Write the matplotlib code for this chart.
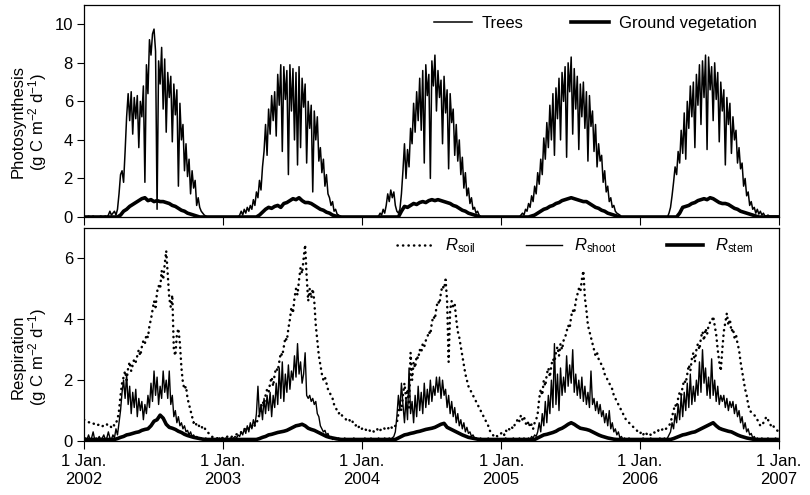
import numpy as np
import matplotlib
matplotlib.use("Agg")
import matplotlib.pyplot as plt

plt.rcParams["font.family"] = ["Liberation Sans", "DejaVu Sans"]
plt.rcParams["mathtext.fontset"] = "custom"
plt.rcParams["mathtext.rm"] = "Liberation Sans"
plt.rcParams["mathtext.it"] = "Liberation Sans:italic"
plt.rcParams["mathtext.bf"] = "Liberation Sans:bold"

YEARS = [2002, 2003, 2004, 2005, 2006]
STEP_FINE = 4     # days between samples of the noisy series
STEP_COARSE = 8   # days between samples of the smooth series

# Photosynthesis of trees, g C m-2 d-1 (one list per year, every 4 days)
TREES = [
    [0, 0, 0, 0.05, 0, 0, 0.05, 0, 0, 0,
     0, 0.05, 0, 0, 0.05, 0, 0.1, 0.3, 0.1, 0.2,
     0.3, 0.1, 0.4, 1.2, 2.2, 2.4, 1.8, 3.4, 5.2, 6.4,
     5.0, 6.5, 4.3, 6.2, 5.1, 6.3, 3.6, 6.0, 5.2, 6.8,
     1.8, 7.9, 6.4, 9.2, 8.4, 9.5, 9.75, 8.6, 0.4, 8.1,
     6.9, 8.8, 5.6, 8.2, 4.4, 7.5, 6.2, 7.3, 3.9, 6.9,
     5.3, 6.6, 1.6, 5.9, 4.0, 4.8, 2.4, 3.8, 2.1, 3.0,
     1.2, 2.4, 1.5, 1.9, 0.6, 1.0, 0.5, 0.3, 0.2, 0.1,
     0.05, 0, 0, 0, 0, 0, 0, 0, 0, 0,
     0, 0],
    [0, 0, 0, 0, 0, 0, 0, 0, 0, 0,
     0, 0.1, 0.3, 0.1, 0.4, 0.2, 0.5, 0.3, 0.6, 0.4,
     0.9, 0.6, 1.3, 1.0, 1.9, 1.4, 2.6, 3.4, 4.8, 3.2,
     5.6, 4.3, 6.3, 5.0, 6.5, 4.2, 7.4, 5.8, 7.9, 3.4,
     7.8, 6.1, 7.6, 2.2, 7.9, 5.5, 7.7, 4.0, 7.5, 2.7,
     7.8, 3.6, 7.2, 5.7, 6.9, 2.8, 6.0, 4.6, 5.8, 1.3,
     5.5, 4.0, 5.2, 2.9, 3.6, 2.3, 3.0, 1.6, 2.2, 1.2,
     1.0, 0.6, 0.8, 0.3, 0.4, 0.15, 0.1, 0, 0, 0,
     0, 0, 0, 0, 0, 0, 0, 0, 0, 0,
     0, 0],
    [0, 0, 0, 0, 0, 0, 0, 0, 0, 0,
     0, 0.05, 0.2, 0.1, 0.4, 0.2, 0.6, 1.2, 0.8, 1.4,
     1.0, 1.3, 0.6, 0.3, 0.2, 0.4, 1.2, 2.4, 3.8, 2.0,
     3.5, 2.6, 4.6, 3.8, 5.9, 4.4, 6.5, 5.0, 7.2, 4.5,
     7.6, 2.8, 7.9, 6.3, 7.4, 2.0, 8.1, 6.8, 8.4, 5.5,
     7.6, 6.2, 7.1, 3.8, 7.3, 5.4, 6.6, 2.5, 6.4, 4.9,
     5.6, 3.2, 4.8, 2.9, 4.0, 2.2, 3.1, 1.5, 2.3, 1.1,
     1.5, 0.7, 1.0, 0.4, 0.5, 0.2, 0.3, 0.1, 0, 0,
     0, 0, 0, 0, 0, 0, 0, 0, 0, 0,
     0, 0],
    [0, 0, 0, 0, 0, 0, 0, 0, 0, 0,
     0, 0, 0, 0.1, 0.2, 0.1, 0.4, 0.3, 0.7, 0.5,
     1.1, 0.8, 1.6, 1.2, 2.3, 1.7, 3.0, 2.2, 4.1, 3.0,
     4.9, 3.6, 5.8, 4.0, 6.4, 3.2, 6.7, 5.1, 7.2, 4.0,
     7.5, 6.0, 7.8, 3.1, 8.0, 6.5, 8.3, 4.3, 7.7, 5.6,
     7.3, 3.5, 6.9, 5.2, 7.0, 4.6, 6.5, 2.9, 6.3, 4.7,
     5.5, 3.4, 4.8, 2.6, 3.8, 2.9, 3.2, 1.8, 2.4, 1.3,
     1.6, 0.8, 1.0, 0.5, 0.6, 0.3, 0.2, 0.15, 0.1, 0,
     0, 0, 0, 0, 0, 0, 0, 0, 0, 0,
     0, 0],
    [0, 0, 0, 0, 0, 0, 0, 0, 0, 0,
     0, 0, 0, 0, 0, 0, 0, 0, 0, 0.2,
     0.5, 1.1, 1.8, 2.6, 2.2, 3.4, 2.8, 4.5, 3.3, 5.4,
     3.0, 6.0, 4.6, 6.8, 5.2, 7.0, 3.6, 7.4, 5.8, 7.9,
     4.8, 8.1, 6.2, 8.4, 3.5, 8.3, 6.6, 7.8, 5.0, 8.0,
     6.1, 7.5, 3.9, 7.0, 5.5, 6.6, 2.7, 6.2, 4.8, 5.9,
     3.3, 5.2, 4.0, 4.5, 2.8, 3.6, 2.5, 2.8, 1.6, 2.0,
     1.1, 1.3, 0.6, 0.8, 0.4, 0.5, 0.2, 0.4, 0.15, 0.3,
     0.1, 0.2, 0.05, 0.05, 0.1, 0.05, 0.05, 0.05, 0.05, 0.05,
     0.05, 0.05],
]

# Photosynthesis of ground vegetation (every 8 days)
GROUND = [
    [0, 0, 0, 0, 0, 0, 0, 0, 0, 0,
     0, 0, 0.1, 0.3, 0.4, 0.55, 0.65, 0.75, 0.85, 0.95,
     1.0, 0.85, 0.9, 0.8, 0.85, 0.8, 0.8, 0.75, 0.7, 0.6,
     0.55, 0.45, 0.35, 0.3, 0.2, 0.15, 0.1, 0.05, 0, 0,
     0, 0, 0, 0, 0, 0],
    [0, 0, 0, 0, 0, 0, 0, 0, 0, 0,
     0, 0, 0.1, 0.25, 0.4, 0.5, 0.45, 0.55, 0.6, 0.5,
     0.7, 0.75, 0.85, 0.95, 0.9, 1.0, 0.85, 0.75, 0.75, 0.7,
     0.6, 0.5, 0.4, 0.35, 0.25, 0.2, 0.1, 0.05, 0.02, 0,
     0, 0, 0, 0, 0, 0],
    [0, 0, 0, 0, 0, 0, 0, 0, 0, 0,
     0, 0, 0, 0.3, 0.55, 0.5, 0.6, 0.7, 0.65, 0.75,
     0.8, 0.75, 0.85, 0.9, 0.85, 0.9, 0.85, 0.8, 0.75, 0.7,
     0.6, 0.55, 0.45, 0.35, 0.3, 0.2, 0.15, 0.1, 0.05, 0,
     0, 0, 0, 0, 0, 0],
    [0, 0, 0, 0, 0, 0, 0, 0, 0, 0,
     0.05, 0.1, 0.2, 0.3, 0.4, 0.45, 0.55, 0.6, 0.7, 0.75,
     0.85, 0.9, 0.95, 1.0, 0.95, 0.9, 0.85, 0.8, 0.8, 0.7,
     0.6, 0.5, 0.45, 0.35, 0.3, 0.2, 0.15, 0.1, 0.05, 0,
     0, 0, 0, 0, 0, 0],
    [0, 0, 0, 0, 0, 0, 0, 0, 0, 0,
     0, 0, 0, 0.2, 0.5, 0.55, 0.6, 0.7, 0.75, 0.85,
     0.9, 0.95, 0.9, 1.0, 0.95, 0.85, 0.75, 0.7, 0.7, 0.65,
     0.55, 0.45, 0.4, 0.3, 0.25, 0.2, 0.15, 0.1, 0.05, 0,
     0, 0, 0, 0, 0, 0],
]

# Soil respiration (every 4 days)
SOIL = [
    [0.7, 0.68, 0.65, 0.62, 0.6, 0.62, 0.58, 0.55, 0.57, 0.52,
     0.55, 0.5, 0.48, 0.52, 0.5, 0.55, 0.48, 0.5, 0.45, 0.55,
     0.5, 0.6, 0.7, 1.0, 1.5, 1.9, 2.1, 2.3, 2.0, 2.4,
     2.6, 2.3, 2.5, 2.7, 2.6, 2.8, 3.0, 2.8, 3.1, 3.3,
     3.2, 3.5, 3.4, 3.8, 4.0, 4.3, 4.6, 4.4, 4.9, 5.1,
     5.0, 5.6, 5.3, 5.8, 6.25, 5.5, 4.7, 4.4, 4.8, 3.0,
     2.8, 3.5, 3.7, 3.2, 2.4, 1.9, 1.7, 1.8, 1.4, 1.2,
     1.0, 0.8, 0.6, 0.65, 0.5, 0.55, 0.45, 0.5, 0.4, 0.45,
     0.35, 0.3, 0.25, 0.2, 0.15, 0.1, 0.1, 0.08, 0.1, 0.12,
     0.1, 0.1],
    [0.1, 0.12, 0.1, 0.15, 0.12, 0.1, 0.15, 0.18, 0.2, 0.22,
     0.25, 0.3, 0.28, 0.35, 0.4, 0.38, 0.45, 0.4, 0.5, 0.45,
     0.55, 0.5, 0.6, 0.7, 0.9, 1.1, 1.3, 1.2, 1.5, 1.7,
     1.6, 1.9, 2.1, 1.8, 2.2, 2.4, 2.3, 2.6, 2.9, 2.8,
     3.1, 3.4, 3.3, 3.7, 4.0, 4.4, 4.2, 4.7, 5.0, 4.8,
     5.3, 5.7, 5.5, 6.0, 6.45, 5.4, 4.6, 5.0, 4.7, 5.0,
     4.6, 3.8, 3.3, 2.8, 2.5, 2.2, 2.0, 2.1, 1.9, 1.7,
     1.6, 1.5, 1.4, 1.2, 1.1, 1.0, 0.9, 0.95, 0.85, 0.8,
     0.75, 0.7, 0.65, 0.7, 0.6, 0.65, 0.55, 0.5, 0.55, 0.45,
     0.5, 0.45],
    [0.4, 0.45, 0.4, 0.35, 0.4, 0.35, 0.3, 0.35, 0.3, 0.35,
     0.4, 0.3, 0.35, 0.4, 0.45, 0.4, 0.35, 0.4, 0.45, 0.5,
     0.4, 0.45, 0.5, 0.6, 0.9, 1.2, 1.0, 1.5, 1.9, 1.4,
     1.7, 1.1, 2.9, 2.0, 2.6, 2.4, 2.8, 2.7, 3.0, 2.9,
     3.2, 3.1, 3.3, 3.4, 3.6, 3.5, 3.9, 4.1, 4.0, 4.4,
     4.6, 4.5, 4.9, 5.1, 5.0, 5.3, 4.6, 2.6, 4.3, 4.6,
     4.4, 4.5, 4.0, 3.6, 3.4, 3.1, 2.8, 2.5, 2.2, 2.0,
     1.8, 1.7, 1.6, 1.5, 1.4, 1.3, 1.2, 1.1, 1.0, 0.9,
     0.8, 0.7, 0.6, 0.5, 0.35, 0.25, 0.2, 0.15, 0.2, 0.15,
     0.2, 0.25],
    [0.25, 0.3, 0.2, 0.35, 0.3, 0.4, 0.35, 0.45, 0.4, 0.55,
     0.6, 0.75, 0.65, 0.85, 0.7, 0.8, 0.6, 0.5, 0.65, 0.45,
     0.55, 0.4, 0.6, 0.7, 0.9, 1.4, 1.7, 1.5, 2.0, 1.8,
     2.2, 2.4, 2.1, 2.5, 2.7, 2.6, 2.9, 3.1, 2.8, 3.2,
     3.0, 3.3, 3.4, 3.6, 3.8, 3.7, 4.1, 4.3, 4.2, 4.6,
     4.8, 5.0, 4.9, 5.3, 5.6, 4.7, 4.3, 3.8, 3.6, 3.4,
     3.2, 3.0, 2.8, 2.9, 2.7, 2.6, 2.5, 2.4, 2.2, 2.1,
     2.0, 1.9, 1.8, 1.7, 1.5, 1.4, 1.3, 1.2, 1.1, 1.0,
     0.9, 0.8, 0.7, 0.65, 0.6, 0.55, 0.5, 0.45, 0.4, 0.35,
     0.3, 0.3],
    [0.25, 0.3, 0.2, 0.3, 0.25, 0.2, 0.25, 0.2, 0.25, 0.3,
     0.25, 0.3, 0.35, 0.3, 0.35, 0.4, 0.35, 0.4, 0.45, 0.5,
     0.6, 0.8, 1.0, 1.2, 1.1, 1.4, 1.6, 1.5, 1.8, 2.0,
     1.9, 2.2, 2.5, 2.3, 2.7, 2.9, 2.6, 3.0, 3.2, 3.0,
     3.4, 3.6, 3.3, 3.7, 3.5, 3.8, 3.9, 3.9, 4.1, 3.8,
     3.5, 3.0, 2.6, 2.3, 3.0, 3.6, 3.9, 4.2, 3.8, 4.0,
     3.6, 3.7, 3.4, 3.5, 3.2, 3.0, 2.6, 2.3, 2.0, 1.7,
     1.5, 1.2, 1.0, 0.95, 0.9, 0.85, 0.8, 0.7, 0.6, 0.5,
     0.5, 0.6, 0.7, 0.8, 0.7, 0.6, 0.5, 0.55, 0.45, 0.4,
     0.35, 0.3],
]

# Shoot respiration (every 4 days)
SHOOT = [
    [0.05, 0.1, 0.05, 0.2, 0.05, 0.1, 0.3, 0.05, 0.1, 0.05,
     0.15, 0.05, 0.1, 0.2, 0.05, 0.1, 0.3, 0.1, 0.05, 0.2,
     0.1, 0.4, 0.2, 0.6, 1.0, 1.6, 2.0, 1.4, 2.2, 1.2,
     1.8, 0.9, 1.6, 1.1, 1.7, 0.8, 1.4, 1.0, 1.3, 0.7,
     1.2, 0.9, 1.5, 1.1, 1.9, 1.3, 2.3, 1.5, 2.1, 1.2,
     1.8, 1.4, 2.3, 1.6, 2.0, 1.4, 2.3, 1.2, 1.5, 0.8,
     1.0, 0.6, 0.8, 0.5, 0.6, 0.4, 0.5, 0.3, 0.35, 0.2,
     0.3, 0.15, 0.2, 0.1, 0.15, 0.1, 0.05, 0.1, 0.05, 0.05,
     0.1, 0.05, 0.05, 0.05, 0.1, 0.05, 0.05, 0.05, 0.05, 0.1,
     0.05, 0.05],
    [0.05, 0.05, 0.1, 0.05, 0.05, 0.1, 0.05, 0.1, 0.15, 0.1,
     0.2, 0.15, 0.3, 0.2, 0.4, 0.25, 0.5, 0.3, 0.6, 0.4,
     0.7, 0.5, 0.9, 1.8, 0.8, 1.2, 0.7, 1.4, 0.9, 1.5,
     1.0, 1.6, 0.8, 1.5, 1.1, 1.9, 1.2, 2.4, 1.4, 2.6,
     1.3, 2.2, 1.6, 2.5, 1.7, 2.3, 2.0, 2.8, 2.1, 3.2,
     2.2, 2.6, 1.9, 2.2, 2.9, 1.5, 1.4, 1.5, 1.3, 1.4,
     1.2, 1.3, 0.9, 0.8, 0.5, 0.4, 0.3, 0.35, 0.2, 0.25,
     0.1, 0.15, 0.05, 0.1, 0.05, 0.05, 0.1, 0.05, 0.05, 0.05,
     0.1, 0.05, 0.05, 0.05, 0.05, 0.05, 0.1, 0.05, 0.05, 0.05,
     0.05, 0.05],
    [0.05, 0.05, 0.1, 0.05, 0.05, 0.05, 0.1, 0.05, 0.05, 0.05,
     0.05, 0.1, 0.05, 0.05, 0.05, 0.1, 0.05, 0.05, 0.1, 0.05,
     0.1, 0.15, 0.3, 0.8, 1.5, 1.0, 1.9, 1.2, 0.6, 1.4,
     0.7, 2.4, 0.9, 1.3, 0.6, 1.5, 0.8, 1.8, 1.0, 1.6,
     0.9, 1.9, 1.1, 1.7, 1.2, 2.0, 1.3, 1.8, 1.5, 2.1,
     1.6, 2.1, 1.4, 2.0, 1.5, 1.7, 1.1, 1.5, 0.9, 1.3,
     0.8, 1.1, 0.6, 0.9, 0.5, 0.7, 0.4, 0.6, 0.3, 0.45,
     0.25, 0.3, 0.15, 0.2, 0.1, 0.1, 0.05, 0.05, 0.1, 0.05,
     0.05, 0.05, 0.05, 0.1, 0.05, 0.05, 0.05, 0.05, 0.05, 0.05,
     0.05, 0.05],
    [0.05, 0.05, 0.05, 0.1, 0.05, 0.05, 0.05, 0.05, 0.1, 0.05,
     0.05, 0.05, 0.1, 0.05, 0.05, 0.1, 0.05, 0.05, 0.1, 0.05,
     0.15, 0.1, 0.2, 0.15, 0.3, 0.6, 0.3, 0.9, 0.5, 1.3,
     0.6, 1.5, 0.9, 2.0, 1.1, 3.2, 1.2, 2.2, 1.0, 2.4,
     1.5, 2.1, 1.6, 2.8, 1.8, 2.5, 1.9, 3.0, 1.6, 2.2,
     1.5, 2.0, 1.4, 2.1, 1.3, 1.8, 1.2, 1.6, 1.1, 2.3,
     1.2, 1.4, 1.0, 1.3, 0.9, 1.2, 0.8, 1.0, 0.6, 0.9,
     0.5, 1.0, 0.4, 0.6, 0.3, 0.4, 0.2, 0.3, 0.1, 0.15,
     0.05, 0.1, 0.05, 0.05, 0.1, 0.05, 0.05, 0.05, 0.05, 0.05,
     0.05, 0.05],
    [0.05, 0.05, 0.1, 0.05, 0.05, 0.05, 0.05, 0.1, 0.05, 0.05,
     0.05, 0.05, 0.05, 0.1, 0.05, 0.05, 0.1, 0.05, 0.1, 0.2,
     0.3, 0.6, 0.4, 0.9, 0.6, 1.2, 0.7, 1.5, 0.8, 1.6,
     1.0, 1.9, 1.1, 2.2, 1.2, 1.8, 1.3, 2.0, 1.5, 2.6,
     1.6, 3.0, 1.9, 2.4, 1.5, 2.1, 1.4, 2.7, 1.5, 2.0,
     1.3, 1.8, 1.2, 1.5, 1.3, 1.5, 1.1, 1.4, 1.0, 1.3,
     1.1, 1.3, 0.9, 1.2, 0.8, 1.0, 0.6, 0.8, 0.4, 0.6,
     0.3, 0.4, 0.2, 0.25, 0.1, 0.15, 0.05, 0.1, 0.05, 0.05,
     0.1, 0.05, 0.05, 0.05, 0.1, 0.05, 0.05, 0.05, 0.05, 0.1,
     0.05, 0.05],
]

# Stem respiration (every 8 days)
STEM = [
    [0.05, 0.05, 0.05, 0.05, 0.05, 0.05, 0.05, 0.05, 0.05, 0.05,
     0.05, 0.08, 0.12, 0.15, 0.2, 0.22, 0.25, 0.28, 0.3, 0.35,
     0.38, 0.4, 0.5, 0.65, 0.7, 0.85, 0.75, 0.55, 0.45, 0.42,
     0.38, 0.32, 0.28, 0.22, 0.18, 0.15, 0.12, 0.1, 0.08, 0.06,
     0.05, 0.05, 0.05, 0.05, 0.05, 0.05],
    [0.05, 0.05, 0.05, 0.05, 0.05, 0.05, 0.05, 0.05, 0.05, 0.05,
     0.05, 0.05, 0.08, 0.12, 0.15, 0.2, 0.22, 0.25, 0.28, 0.3,
     0.32, 0.35, 0.4, 0.45, 0.5, 0.52, 0.55, 0.5, 0.42, 0.38,
     0.35, 0.3, 0.25, 0.2, 0.15, 0.12, 0.1, 0.08, 0.06, 0.05,
     0.05, 0.05, 0.05, 0.05, 0.05, 0.05],
    [0.05, 0.05, 0.05, 0.05, 0.05, 0.05, 0.05, 0.05, 0.05, 0.05,
     0.05, 0.05, 0.1, 0.15, 0.2, 0.22, 0.25, 0.27, 0.3, 0.32,
     0.35, 0.38, 0.4, 0.42, 0.45, 0.5, 0.55, 0.58, 0.45, 0.4,
     0.35, 0.3, 0.25, 0.2, 0.16, 0.12, 0.1, 0.08, 0.06, 0.05,
     0.05, 0.05, 0.05, 0.05, 0.05, 0.05],
    [0.05, 0.05, 0.05, 0.05, 0.05, 0.05, 0.05, 0.05, 0.05, 0.05,
     0.05, 0.05, 0.1, 0.15, 0.2, 0.22, 0.25, 0.28, 0.32, 0.38,
     0.42, 0.48, 0.55, 0.6, 0.55, 0.48, 0.42, 0.4, 0.38, 0.35,
     0.3, 0.25, 0.2, 0.16, 0.13, 0.1, 0.08, 0.06, 0.05, 0.05,
     0.05, 0.05, 0.05, 0.05, 0.05, 0.05],
    [0.05, 0.05, 0.05, 0.05, 0.05, 0.05, 0.05, 0.05, 0.05, 0.05,
     0.05, 0.08, 0.12, 0.16, 0.2, 0.22, 0.25, 0.28, 0.3, 0.35,
     0.4, 0.45, 0.5, 0.55, 0.6, 0.5, 0.42, 0.38, 0.35, 0.32,
     0.3, 0.25, 0.2, 0.16, 0.13, 0.1, 0.08, 0.06, 0.05, 0.05,
     0.05, 0.05, 0.05, 0.05, 0.05, 0.05],
]

TICK_YEARS = [2002, 2003, 2004, 2005, 2006, 2007]
FS = 12


def to_series(per_year, step):
    """Join the yearly lists into one dated series."""
    t, v = [], []
    for year, vals in zip(YEARS, per_year):
        start = np.datetime64(f"{year}-01-01")
        t.append(start + np.arange(len(vals)) * np.timedelta64(step, "D"))
        v.append(np.asarray(vals, dtype=float))
    return np.concatenate(t), np.concatenate(v)


fig = plt.figure(figsize=(8.1, 4.95), dpi=100)
ax1 = fig.add_axes([84 / 810, 1 - 217 / 495, 695 / 810, 212 / 495])
ax2 = fig.add_axes([84 / 810, 1 - 441 / 495, 695 / 810, 213 / 495])

# --- photosynthesis ---
t, v = to_series(TREES, STEP_FINE)
ax1.plot(t, v, color="black", lw=1.1, label="Trees")
t, v = to_series(GROUND, STEP_COARSE)
ax1.plot(t, v, color="black", lw=2.6, label="Ground vegetation")

# --- respiration ---
t, v = to_series(SOIL, STEP_FINE)
ax2.plot(t, v, color="black", lw=1.8, ls=(0, (0.1, 2.1)),
         dash_capstyle="round", label=r"$R_{\mathrm{soil}}$")
t, v = to_series(SHOOT, STEP_FINE)
ax2.plot(t, v, color="black", lw=1.0, label=r"$R_{\mathrm{shoot}}$")
t, v = to_series(STEM, STEP_COARSE)
ax2.plot(t, v, color="black", lw=2.6, label=r"$R_{\mathrm{stem}}$")

ticks = [np.datetime64(f"{y}-01-01") for y in TICK_YEARS]
for ax in (ax1, ax2):
    ax.set_xlim(ticks[0], ticks[-1])
    ax.set_xticks(ticks)
    ax.tick_params(axis="x", direction="out", length=6, width=0.8, pad=3)
    ax.tick_params(axis="y", direction="out", length=5, width=0.8,
                   labelsize=FS, pad=3)
    for s in ax.spines.values():
        s.set_linewidth(0.9)

ax1.set_xticklabels([])
ax2.set_xticklabels([f"1 Jan.\n{y}" for y in TICK_YEARS], fontsize=FS)
for lab in ax2.get_xticklabels():
    lab.set_linespacing(1.25)

ax1.set_ylim(0, 11)
ax1.set_yticks([0, 2, 4, 6, 8, 10])
ax2.set_ylim(0, 7)
ax2.set_yticks([0, 2, 4, 6])

ax1.set_ylabel("Photosynthesis\n(g C m$^{-2}$ d$^{-1}$)", fontsize=FS,
               linespacing=1.05)
ax1.yaxis.set_label_coords(-0.05, 0.45)
ax2.set_ylabel("Respiration\n(g C m$^{-2}$ d$^{-1}$)", fontsize=FS,
               linespacing=1.05)
ax2.yaxis.set_label_coords(-0.05, 0.395)

ax1.legend(loc="center right", bbox_to_anchor=(0.968, 0.915), ncol=2,
           frameon=False, fontsize=FS, handlelength=2.3, handletextpad=0.6,
           columnspacing=2.8, borderpad=0, borderaxespad=0)
ax2.legend(loc="center right", bbox_to_anchor=(0.963, 0.915), ncol=3,
           frameon=False, fontsize=FS, handlelength=2.2, handletextpad=0.7,
           columnspacing=3.0, borderpad=0, borderaxespad=0)

fig.savefig("out.png", dpi=100)
